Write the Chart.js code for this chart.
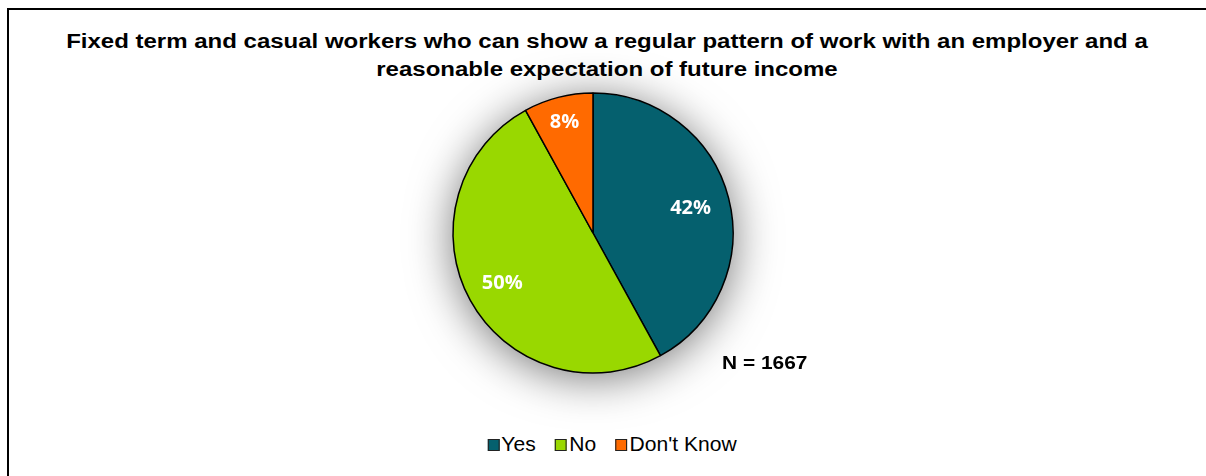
<!DOCTYPE html>
<html>
<head>
<meta charset="utf-8">
<script src="https://cdn.jsdelivr.net/npm/chart.js@4/dist/chart.umd.min.js"></script>
<style>
  html, body { margin: 0; padding: 0; background: #fff; }
  body { width: 1206px; height: 476px; position: relative; overflow: hidden; font-family: "Liberation Sans", Arial, sans-serif; }
  .frame { position: absolute; left: 7px; top: 8px; width: 1300px; height: 600px; border-top: 2px solid #000; border-left: 2px solid #000; }
  .title { position: absolute; left: 7px; top: 27px; width: 1200px; text-align: center; font-weight: bold; font-size: 20px; line-height: 28px; color: #000; transform: scaleX(1.2); transform-origin: 600px 0; }
  .note { position: absolute; left: 722px; top: 352px; font-weight: bold; font-size: 19px; color: #000; transform: scaleX(1.1); transform-origin: 0 0; }
  #pieBox { position: absolute; left: 393px; top: 33px; width: 400px; height: 400px; }
  .legend { position: absolute; left: 12px; top: 433px; width: 1200px; text-align: center; font-size: 19.5px; color: #000; transform: scaleX(1.08); transform-origin: 600px 0; }
  .legend span.item { margin: 0 9px; white-space: nowrap; }
  .legend i { display: inline-block; width: 9px; height: 10px; border: 1px solid #222; margin-right: 2px; vertical-align: 0px; }
</style>
</head>
<body>
<div class="frame"></div>
<div class="title">Fixed term and casual workers who can show a regular pattern of work with an employer and a<br>reasonable expectation of future income</div>
<div id="pieBox"><canvas id="pie" width="400" height="400"></canvas></div>
<div class="note">N = 1667</div>
<div class="legend" id="legend"></div>

<script>
const categories = ['Yes', 'No', "Don't Know"];
const shares = [42, 50, 8];
const sliceColors = ['#05606e', '#99d800', '#ff6a00'];
// how far out (as a share of the radius) each % label sits
const labelRadius = [0.72, 0.74, 0.82];

// soft grey glow behind the pie
const pieShadow = {
    id: 'pieShadow',
    beforeDatasetsDraw(chart) {
        const arc = chart.getDatasetMeta(0).data[0];
        if (!arc) return;
        const ctx = chart.ctx;
        ctx.save();
        ctx.shadowColor = 'rgba(0,0,0,0.55)';
        ctx.shadowBlur = 45;
        ctx.shadowOffsetY = 5;
        ctx.fillStyle = '#fff';
        ctx.beginPath();
        ctx.arc(arc.x, arc.y, arc.outerRadius, 0, Math.PI * 2);
        ctx.fill();
        ctx.restore();
    }
};

const sliceLabels = {
    id: 'sliceLabels',
    afterDatasetsDraw(chart) {
        const ctx = chart.ctx;
        ctx.save();
        ctx.fillStyle = '#fff';
        ctx.font = 'bold 20px "Open Sans", sans-serif';
        ctx.textAlign = 'center';
        ctx.textBaseline = 'middle';
        chart.getDatasetMeta(0).data.forEach((arc, i) => {
            const mid = (arc.startAngle + arc.endAngle) / 2;
            const r = arc.outerRadius * labelRadius[i];
            ctx.fillText(shares[i] + '%', arc.x + Math.cos(mid) * r, arc.y + Math.sin(mid) * r);
        });
        ctx.restore();
    }
};

new Chart(document.getElementById('pie').getContext('2d'), {
    type: 'pie',
    data: {
        labels: categories,
        datasets: [{
            data: shares,
            backgroundColor: sliceColors,
            borderColor: '#000',
            borderWidth: 1.5
        }]
    },
    options: {
        responsive: false,
        animation: false,
        radius: 140,
        plugins: {
            legend: {display: false},
            tooltip: {enabled: false}
        }
    },
    plugins: [pieShadow, sliceLabels]
});

document.getElementById('legend').innerHTML = categories
    .map((c, i) => `<span class="item"><i style="background:${sliceColors[i]}"></i>${c}</span>`)
    .join('');
</script>
</body>
</html>
